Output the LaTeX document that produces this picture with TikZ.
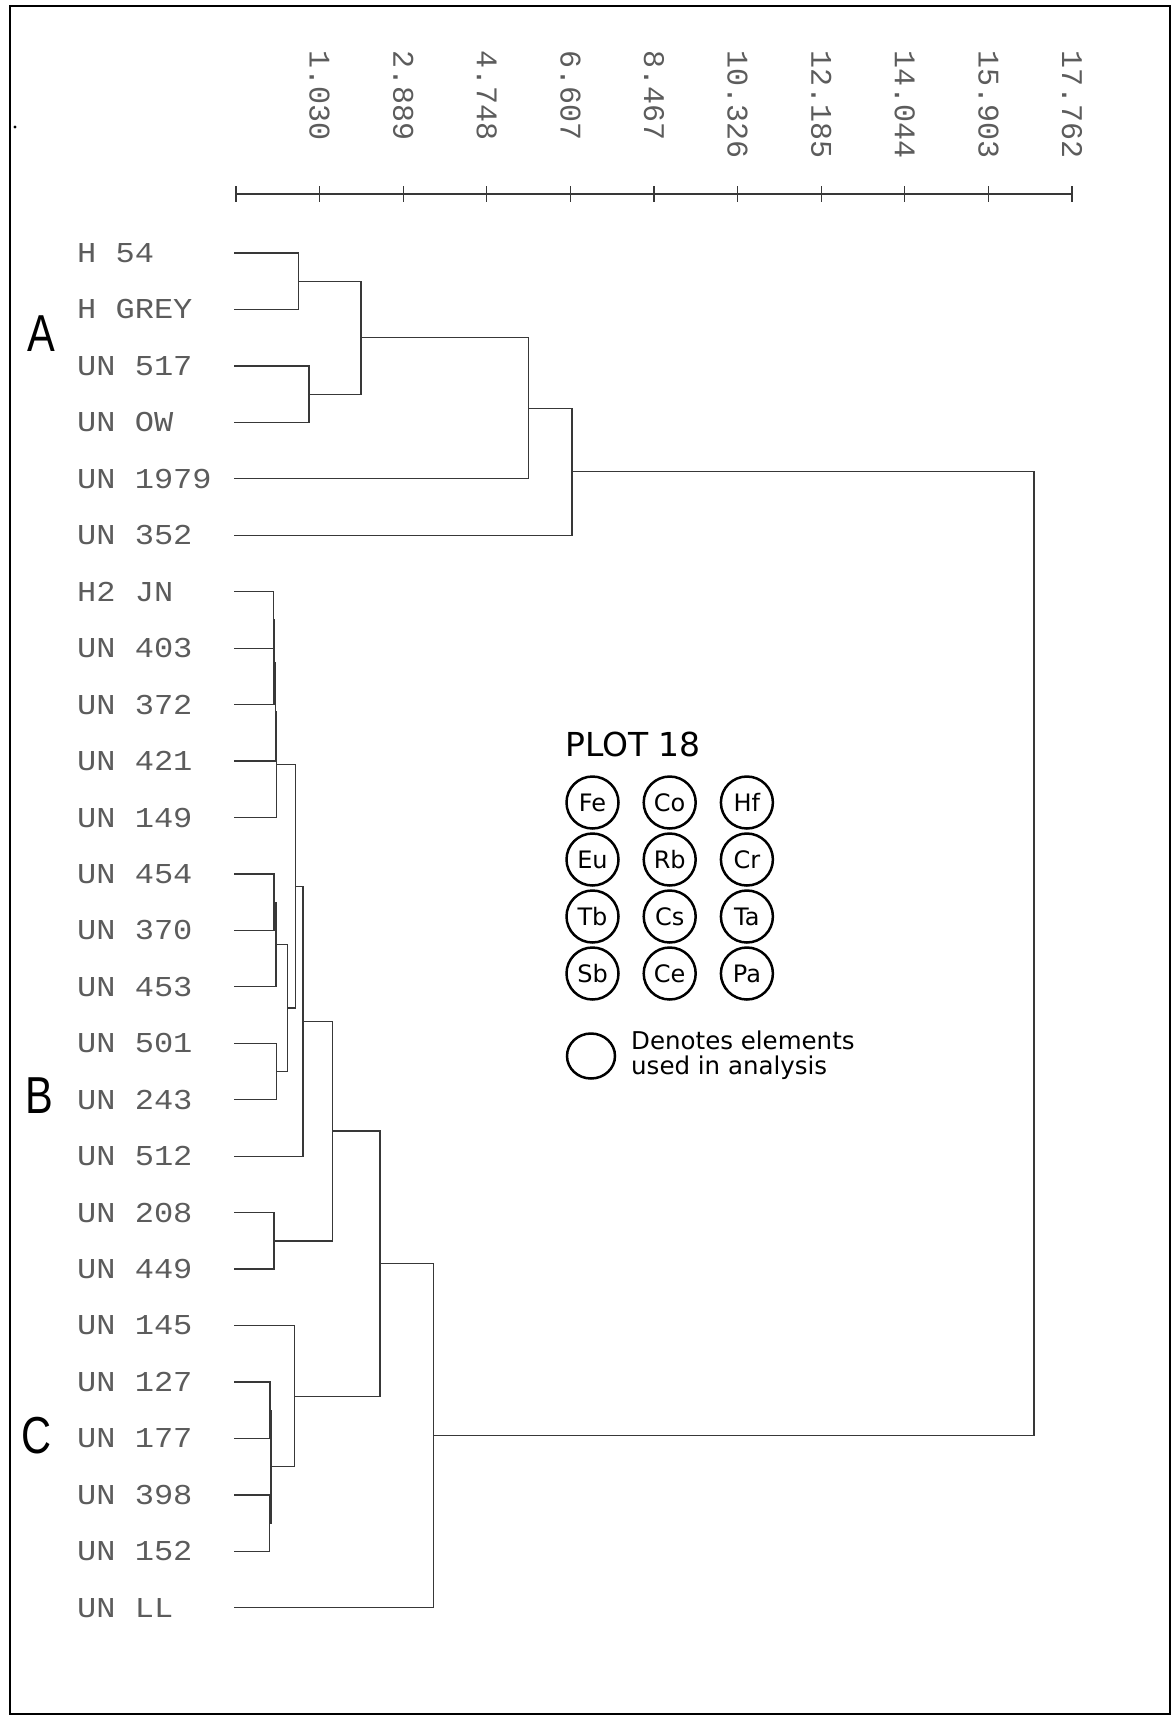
\documentclass[tikz,border=0pt]{standalone}
\usepackage{fontspec}
\usetikzlibrary{shapes.geometric}
\newfontfamily\monof{Liberation Mono}
\newfontfamily\legf{DejaVu Sans}
\newfontfamily\bigf{Liberation Sans}
\definecolor{linegray}{gray}{0.22}
\definecolor{labelgray}{gray}{0.36}
\newcommand\joinat[4]{%
  \path (#3) -- (#4) coordinate[pos=0.5] (#1m);
  \coordinate (#1) at (#2,0 |- #1m);
  \draw[dend] (#3) -| (#1) |- (#4);
}
\begin{document}
\begin{tikzpicture}[x=1pt,y=-1pt,
  dend/.style={draw=linegray,line width=1.25},
  axisline/.style={draw=linegray,line width=1.25},
  leaflabel/.style={anchor=west,inner sep=0pt,yscale=0.9,text=labelgray,font=\monof\fontsize{32}{32}\selectfont},
  ticklabel/.style={anchor=west,rotate=-90,inner sep=0pt,text=labelgray,font=\monof\fontsize{30}{30}\selectfont},
  grouplabel/.style={inner sep=0pt,xscale=0.8,font=\bigf\fontsize{52}{52}\selectfont},
  elem/.style={circle,draw,line width=2.5,minimum size=52,inner sep=0pt,font=\legf\fontsize{24}{24}\selectfont},
]
\useasboundingbox (0,0) rectangle (1172,1716);
\fill[white] (0,0) rectangle (1172,1716);
% frame
\draw[line width=2.5] (10,6) rectangle (1170,1714);
\fill (15,127) circle (1.6);

% axis
\coordinate (ax0) at (236,194);
\coordinate (ax1) at (1072,194);
\draw[axisline] (ax0) -- (ax1);
\foreach \k in {0,...,10} {
  \draw[axisline] ({236+83.6*\k},186) -- ({236+83.6*\k},202);
}
\foreach \k/\v in {1/1.030,2/2.889,3/4.748,4/6.607,5/8.467,6/10.326,7/12.185,8/14.044,9/15.903,10/17.762} {
  \node[ticklabel] (t\k) at ({236+83.6*\k},50) {\v};
}

% leaves
\foreach \i/\t in {0/H 54,1/H GREY,2/UN 517,3/UN OW,4/UN 1979,5/UN 352,6/H2 JN,7/UN 403,8/UN 372,9/UN 421,10/UN 149,11/UN 454,12/UN 370,13/UN 453,14/UN 501,15/UN 243,16/UN 512,17/UN 208,18/UN 449,19/UN 145,20/UN 127,21/UN 177,22/UN 398,23/UN 152,24/UN LL} {
  \node[leaflabel] (l\i) at (77,{253+56.45*\i}) {\t};
  \coordinate (p\i) at (234,{253+56.45*\i});
}

% group letters
\node[grouplabel] (gA) at (41,334) {A};
\node[grouplabel] (gB) at (39,1096) {B};
\node[grouplabel] (gC) at (37,1436) {C};

% cluster A
\joinat{a1}{298.5}{p0}{p1}
\joinat{a2}{309}{p2}{p3}
\joinat{a3}{361}{a1}{a2}
\joinat{a4}{528.5}{a3}{p4}
\joinat{a5}{572}{a4}{p5}

% cluster B
\joinat{b1}{273.5}{p6}{p7}
\joinat{b2}{274}{b1}{p8}
\joinat{b3}{275.5}{b2}{p9}
\joinat{b4}{276.7}{b3}{p10}
\joinat{b5}{274}{p11}{p12}
\joinat{b6}{276}{b5}{p13}
\joinat{b7}{276.7}{p14}{p15}
\joinat{b8}{287.3}{b6}{b7}
\joinat{b9}{295.7}{b4}{b8}
\joinat{b10}{303}{b9}{p16}
\joinat{b11}{274}{p17}{p18}
\joinat{b12}{332.7}{b10}{b11}

% cluster C
\joinat{c1}{270}{p20}{p21}
\joinat{c2}{269.5}{p22}{p23}
\joinat{c3}{271}{c1}{c2}
\joinat{c4}{294.3}{p19}{c3}

% upper joins
\joinat{bc}{380}{b12}{c4}
\joinat{bcl}{433.3}{bc}{p24}
\joinat{root}{1034}{a5}{bcl}

% legend
\node[anchor=west,inner sep=0pt,font=\legf\fontsize{33}{33}\selectfont] (plot) at (565,744) {PLOT 18};
\foreach \n/\c/\r/\t in {fe/0/0/Fe,co/1/0/Co,hf/2/0/Hf,eu/0/1/Eu,rb/1/1/Rb,cr/2/1/Cr,tb/0/2/Tb,cs/1/2/Cs,ta/2/2/Ta,sb/0/3/Sb,ce/1/3/Ce,pa/2/3/Pa} {
  \node[elem] (e\n) at ({592.5+77.2*\c},{802.5+57*\r}) {\t};
}
\node[ellipse,draw,line width=2.5,minimum width=48,minimum height=45,inner sep=0pt] (key) at (591,1056) {};
\node[anchor=west,inner sep=0pt,align=left,font=\legf\fontsize{24.5}{25.5}\selectfont] (keytext) at (631,1055) {Denotes elements\\used in analysis};
\end{tikzpicture}
\end{document}
